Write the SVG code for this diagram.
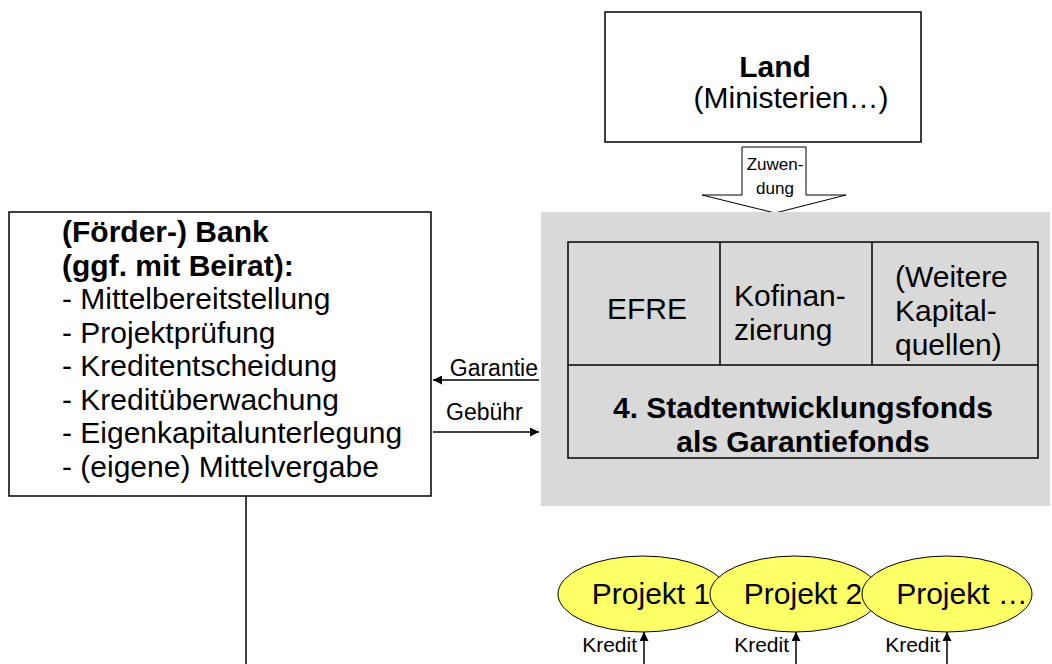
<svg xmlns="http://www.w3.org/2000/svg" width="1052" height="664" viewBox="0 0 1052 664">
  <style>
    text { font-family: "Liberation Sans", Arial, sans-serif; fill: #000; }
    .big { font-size: 30px; }
    .lbl { font-size: 23px; }
    .kr { font-size: 21px; }
    .zu { font-size: 17px; }
    .b { font-weight: bold; }
    .box { fill: #fff; stroke: #000; stroke-width: 1.5; }
    .cell { fill: none; stroke: #000; stroke-width: 1.5; }
    .proj { fill: #ffff66; stroke: #000; stroke-width: 1; }
    .line { stroke: #000; stroke-width: 1.5; fill: none; }
  </style>
  <defs>
    <marker id="arr" viewBox="0 0 10 10" refX="10" refY="5" markerWidth="9" markerHeight="9" markerUnits="userSpaceOnUse" orient="auto">
      <path d="M0,0 L10,5 L0,10 z" fill="#000"/>
    </marker>
  </defs>

  <g id="land">
    <rect class="box" x="605" y="12" width="316" height="130"/>
    <text class="big b" x="775" y="77" text-anchor="middle">Land</text>
    <text class="big" x="791" y="108" text-anchor="middle">(Ministerien…)</text>
  </g>

  <g id="zuwendung">
    <path d="M742,147 H806 V195 H846 L775,213 L702,195 H742 Z" fill="#fff" stroke="#000" stroke-width="1"/>
    <text class="zu" x="775" y="170" text-anchor="middle">Zuwen-</text>
    <text class="zu" x="775" y="194" text-anchor="middle">dung</text>
  </g>

  <g id="fonds">
    <rect x="541" y="212" width="509" height="294" fill="#d9d9d9"/>
    <rect class="cell" x="568" y="242" width="470" height="216"/>
    <line class="cell" x1="568" y1="365" x2="1038" y2="365"/>
    <line class="cell" x1="720" y1="242" x2="720" y2="365"/>
    <line class="cell" x1="872" y1="242" x2="872" y2="365"/>
    <text class="big" x="647" y="319" text-anchor="middle">EFRE</text>
    <text class="big" x="734" y="306">Kofinan-</text>
    <text class="big" x="734" y="340">zierung</text>
    <text class="big" x="895" y="287">(Weitere</text>
    <text class="big" x="895" y="321">Kapital-</text>
    <text class="big" x="895" y="355">quellen)</text>
    <text class="big b" x="803" y="418" text-anchor="middle">4. Stadtentwicklungsfonds</text>
    <text class="big b" x="803" y="452" text-anchor="middle">als Garantiefonds</text>
  </g>

  <g id="bank">
    <rect class="box" x="9" y="212" width="422" height="284"/>
    <text class="big b" x="62" y="242">(Förder-) Bank</text>
    <text class="big b" x="62" y="276">(ggf. mit Beirat):</text>
    <text class="big" x="62" y="309">- Mittelbereitstellung</text>
    <text class="big" x="62" y="343">- Projektprüfung</text>
    <text class="big" x="62" y="376">- Kreditentscheidung</text>
    <text class="big" x="62" y="410">- Kreditüberwachung</text>
    <text class="big" x="62" y="443">- Eigenkapitalunterlegung</text>
    <text class="big" x="62" y="477">- (eigene) Mittelvergabe</text>
  </g>

  <g id="projekte">
    <ellipse class="proj" cx="643" cy="594" rx="85" ry="38"/>
    <ellipse class="proj" cx="795" cy="594" rx="85" ry="38"/>
    <ellipse class="proj" cx="947" cy="594" rx="85" ry="38"/>
    <text class="big" x="651" y="604" text-anchor="middle">Projekt 1</text>
    <text class="big" x="803" y="604" text-anchor="middle">Projekt 2</text>
    <text class="big" x="962" y="604" text-anchor="middle">Projekt …</text>
  </g>

  <g id="connectors">
    <line class="line" x1="539" y1="380" x2="433" y2="380" marker-end="url(#arr)"/>
    <text class="lbl" x="538" y="376" text-anchor="end">Garantie</text>
    <line class="line" x1="433" y1="432" x2="539" y2="432" marker-end="url(#arr)"/>
    <text class="lbl" x="446" y="420">Gebühr</text>
    <line class="line" x1="246" y1="496" x2="246" y2="664"/>
    <line class="line" x1="644" y1="664" x2="644" y2="632" marker-end="url(#arr)"/>
    <text class="kr" x="637" y="652" text-anchor="end">Kredit</text>
    <line class="line" x1="796" y1="664" x2="796" y2="632" marker-end="url(#arr)"/>
    <text class="kr" x="789" y="652" text-anchor="end">Kredit</text>
    <line class="line" x1="947" y1="664" x2="947" y2="632" marker-end="url(#arr)"/>
    <text class="kr" x="940" y="652" text-anchor="end">Kredit</text>
  </g>
</svg>
